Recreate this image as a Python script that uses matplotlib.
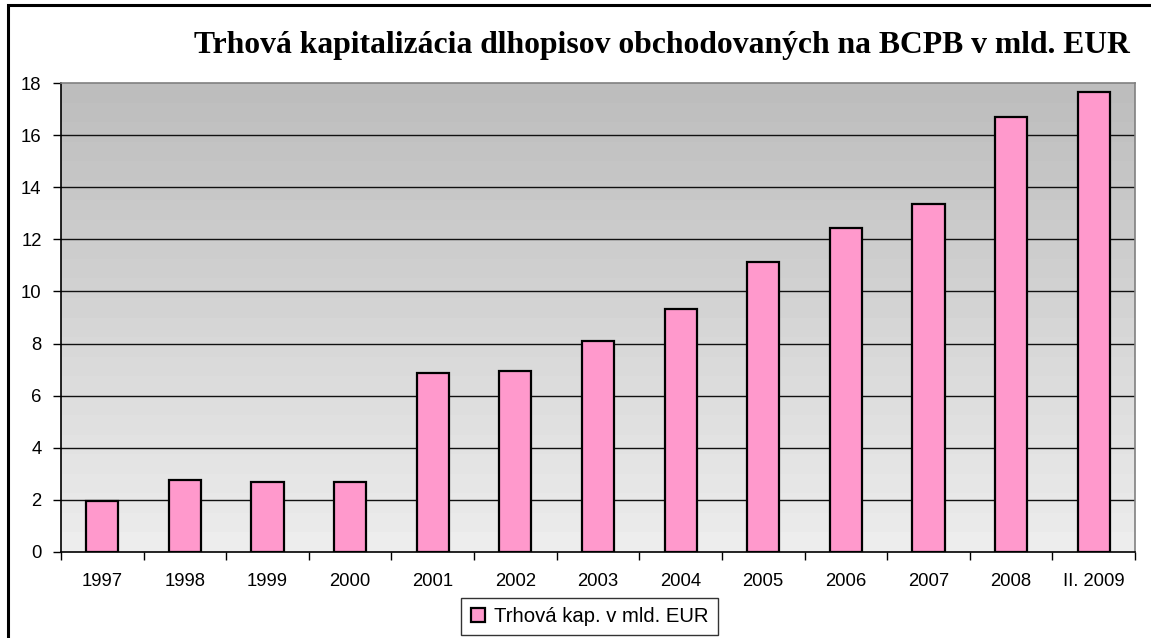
import numpy as np
import matplotlib
matplotlib.use("Agg")
import matplotlib.pyplot as plt
from matplotlib.colors import LinearSegmentedColormap
from matplotlib.patches import Rectangle

years = ["1997", "1998", "1999", "2000", "2001", "2002", "2003",
         "2004", "2005", "2006", "2007", "2008", "II. 2009"]
market_cap = [1.95, 2.75, 2.7, 2.7, 6.88, 6.95, 8.1,
              9.32, 11.13, 12.42, 13.35, 16.7, 17.65]
y_ticks = [0, 2, 4, 6, 8, 10, 12, 14, 16, 18]

title = "Trhová kapitalizácia dlhopisov obchodovaných na BCPB v mld. EUR"
legend_label = "Trhová kap. v mld. EUR"


def main():
    W, H = 1151, 638
    fig = plt.figure(figsize=(W / 100, H / 100), dpi=100)
    ax = fig.add_axes([61 / W, (H - 552) / H, (1135 - 61) / W, (552 - 83) / H])

    n = len(years)
    x = np.arange(n)

    # banded gray gradient background
    cmap = LinearSegmentedColormap.from_list("bg", ["#ededed", "#bdbdbd"])
    grad = np.linspace(0, 1, 24).reshape(-1, 1)
    ax.imshow(grad, cmap=cmap, aspect="auto", origin="lower",
              extent=(-0.5, n - 0.5, 0, 18), zorder=0)

    for t in y_ticks[1:-1]:
        ax.axhline(t, color="#111111", lw=1.0, zorder=1)

    ax.bar(x, market_cap, width=0.39, color="#ff99cc", edgecolor="black",
           linewidth=1.6, zorder=3, label=legend_label)

    ax.set_xlim(-0.5, n - 0.5)
    ax.set_ylim(0, 18)
    ax.set_yticks(y_ticks)
    ax.set_xticks(x)
    ax.set_xticklabels(years)
    ax.set_xticks(np.arange(n + 1) - 0.5, minor=True)
    ax.tick_params(axis="x", which="major", length=0, pad=15)
    ax.tick_params(axis="x", which="minor", length=6, width=1, direction="out")
    ax.tick_params(axis="y", length=6, width=1, direction="out", pad=8)
    for lab in ax.get_xticklabels() + ax.get_yticklabels():
        lab.set_fontfamily("Liberation Sans")
        lab.set_fontsize(13.3)

    ax.spines["left"].set_color("black")
    ax.spines["bottom"].set_color("black")
    ax.spines["top"].set_color("#808080")
    ax.spines["right"].set_color("#808080")
    for s in ax.spines.values():
        s.set_linewidth(1.2)

    fig.text(662 / W, 1 - 46 / H, title, ha="center", va="center",
             fontfamily="Liberation Serif", fontweight="bold", fontsize=22.8)

    leg = ax.legend(loc="center", bbox_to_anchor=(589.5 / W, 1 - 616.5 / H),
                    bbox_transform=fig.transFigure, frameon=True, fancybox=False,
                    handlelength=0.7, handleheight=0.7, handletextpad=0.45,
                    borderpad=0.45, borderaxespad=0,
                    prop={"family": "Liberation Sans", "size": 14.6})
    leg.get_frame().set_edgecolor("black")
    leg.get_frame().set_linewidth(1.0)

    # outer chart border (only left and top visible)
    fig.patches.append(Rectangle((8 / W, -0.1), 1.1, 1.1 - 5 / H,
                                 transform=fig.transFigure, fill=False,
                                 edgecolor="black", lw=2.2))

    fig.savefig("out.png", dpi=100)


if __name__ == "__main__":
    main()
